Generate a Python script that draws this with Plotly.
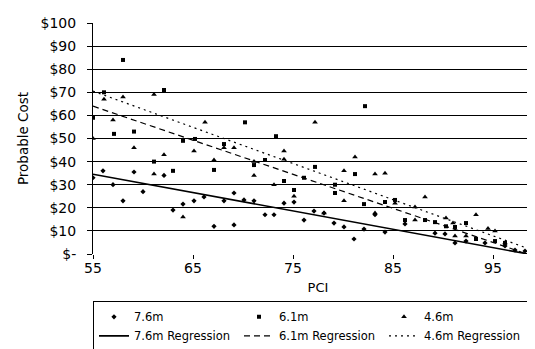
import plotly.graph_objects as go

# ---- data ----
pci_76 = [55, 56, 57, 58, 59.1, 60, 62.1, 63, 64, 65.1, 66.1, 67.1, 68.1, 69.1, 69.1, 70.1, 71.1,
          72.2, 73.1, 74.1, 75.1, 76.1, 77.1, 78.1, 79.1, 80.1, 81.1, 82.1, 83.2, 84.2, 86.2,
          89.2, 90.2, 91.2, 92.3, 94.2, 96.2, 97.2, 98.2]
cost_76 = [33, 36, 30, 23, 35.5, 27, 34, 19, 21.6, 23, 24.7, 12, 23, 26.4, 12.6, 23.4, 23,
           17, 17, 22, 22.5, 14.7, 18.6, 17.7, 13.4, 11.7, 6.5, 10.8, 17, 9.5, 13,
           9, 8.7, 4.8, 5.6, 4.8, 3.5, 1.7, 1.3]

pci_61 = [55, 56.1, 58, 59.1, 57.1, 61.1, 62.1, 63, 64, 65.2, 67.1, 68.1, 70.2, 71.1, 72.2,
          73.3, 74.1, 75.1, 76.1, 77.2, 79.2, 79.2, 81.2, 82.2, 82.1, 84.2, 85.2, 86.2, 88.2,
          89.2, 90.3, 91.2, 92.3, 93.3, 95.2, 96.2, 99.2]
cost_61 = [59, 70, 84, 53, 52, 40, 71, 36, 49, 49.8, 36.4, 47.6, 57, 38.5, 40.7,
           51, 31.6, 27.7, 33, 37.7, 30, 26.4, 34.6, 64, 21.6, 22.5, 23.4, 14.7, 14.7,
           13.8, 12, 11.7, 13.4, 6.5, 5.6, 4.8, 0.9]

pci_46 = [55, 56.1, 57, 58, 59.1, 61.1, 61.1, 62.1, 64, 65.1, 66.2, 67.1, 68.1, 69.1, 71.1,
          71.1, 73.1, 74.1, 74.1, 75.1, 77.2, 78.1, 80.1, 80.1, 81.2, 83.2, 84.2, 83.2, 85.2,
          87.2, 87.2, 88.2, 90.3, 91.2, 91, 92.3, 93.3, 94.5, 95.2, 96.2]
cost_46 = [50, 67, 58, 68, 46, 69, 34.6, 43, 16, 44.6, 57, 40.7, 46, 46, 40,
           34, 30, 44.6, 41, 25, 57, 17.7, 36, 23, 42, 34.6, 35, 17.7, 22,
           20.3, 14.7, 24.7, 15.6, 7.8, 13.4, 7.8, 17, 11, 10, 4.8]

reg76_x = [55, 98.5]
reg76_y = [34.5, 0]
reg61_x = [55, 98.4]
reg61_y = [64, 0]
reg46_x = [55, 99.7]
reg46_y = [70.5, 0.5]

y_ticks = [0, 10, 20, 30, 40, 50, 60, 70, 80, 90, 100]
y_labels = ["$-", "$10", "$20", "$30", "$40", "$50", "$60", "$70", "$80", "$90", "$100"]
x_ticks = [55, 65, 75, 85, 95]

FONT = "DejaVu Sans"

fig = go.Figure()
fig.add_trace(go.Scatter(x=pci_76, y=cost_76, mode="markers", name="7.6m",
                         marker=dict(symbol="diamond", size=4, color="black")))
fig.add_trace(go.Scatter(x=pci_61, y=cost_61, mode="markers", name="6.1m",
                         marker=dict(symbol="square", size=4, color="black")))
fig.add_trace(go.Scatter(x=pci_46, y=cost_46, mode="markers", name="4.6m",
                         marker=dict(symbol="triangle-up", size=5, color="black")))
fig.add_trace(go.Scatter(x=reg76_x, y=reg76_y, mode="lines", name="7.6m Regression",
                         line=dict(color="black", width=1.6, dash="solid")))
fig.add_trace(go.Scatter(x=reg61_x, y=reg61_y, mode="lines", name="6.1m Regression",
                         line=dict(color="black", width=1.2, dash="6px,4px")))
fig.add_trace(go.Scatter(x=reg46_x, y=reg46_y, mode="lines", name="4.6m Regression",
                         line=dict(color="black", width=1.2, dash="2px,4px")))

fig.update_layout(
    width=535, height=349,
    margin=dict(l=85, r=0, t=15, b=103, autoexpand=False),
    paper_bgcolor="white", plot_bgcolor="white",
    font=dict(family=FONT, size=13, color="black"),
    showlegend=True,
    legend=dict(orientation="h", x=0.0, xanchor="left", y=-0.205, yanchor="top",
                bordercolor="black", borderwidth=1, bgcolor="white",
                font=dict(family=FONT, size=11.5, color="black"),
                entrywidth=100, entrywidthmode="pixels",
                itemwidth=30, tracegroupgap=0),
    xaxis=dict(range=[55, 100], tickmode="array", tickvals=x_ticks,
               ticks="outside", ticklen=4, tickcolor="black",
               showgrid=False, zeroline=False, showline=False,
               ticklabelstandoff=-3,
               tickfont=dict(family=FONT, size=14),
               title=dict(text="PCI", font=dict(family=FONT, size=13), standoff=8)),
    yaxis=dict(range=[0, 100], tickmode="array", tickvals=y_ticks, ticktext=y_labels,
               ticks="outside", ticklen=5, tickcolor="black",
               showgrid=True, gridcolor="black", gridwidth=1,
               zeroline=False, showline=True, linecolor="black", linewidth=1,
               ticklabelstandoff=8,
               tickfont=dict(family=FONT, size=14),
               title=dict(text="Probable Cost", font=dict(family=FONT, size=13.5), standoff=8)),
)

fig.write_html("out.html")
